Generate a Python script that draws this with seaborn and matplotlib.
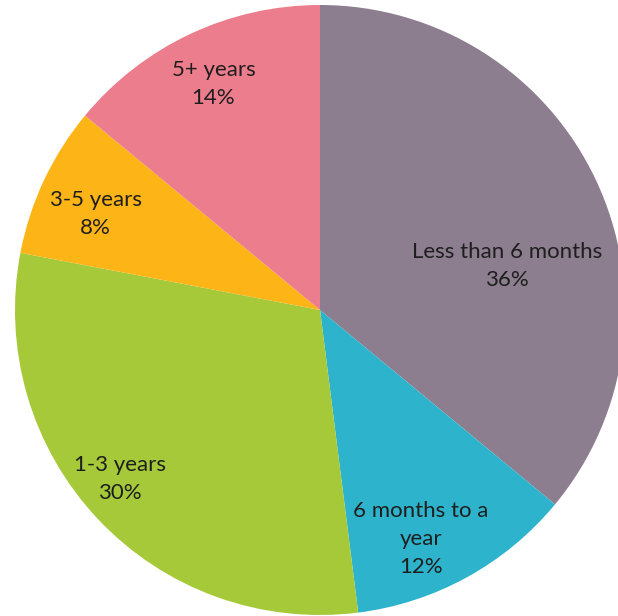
import numpy as np
import matplotlib
matplotlib.use("Agg")
import matplotlib.pyplot as plt
import seaborn as sns

categories = ["Less than 6 months", "6 months to a\nyear", "1-3 years", "3-5 years", "5+ years"]
values = [36, 12, 30, 8, 14]
colors = ["#8c7d8f", "#2db3cc", "#a6c93a", "#fdb416", "#ec7d8c"]
label_dist = [0.63, 0.82, 0.86, 0.80, 0.82]
label_angle_shift = [-12, -5, -3, 2, 0]

sns.set_theme(style="white")
plt.rcParams["font.family"] = ["Lato", "DejaVu Sans"]

fig = plt.figure(figsize=(6.18, 6.16), dpi=100)
ax = fig.add_axes([15 / 618, 1 / 616, 610 / 618, 610 / 616])
pal = sns.color_palette(colors)

wedges, _ = ax.pie(values, colors=pal, startangle=90, counterclock=False,
                   radius=1, wedgeprops=dict(linewidth=0))
total = sum(values)
for w, cat, v, d, sh in zip(wedges, categories, values, label_dist, label_angle_shift):
    ang = np.deg2rad((w.theta1 + w.theta2) / 2 + sh)
    ax.text(d * np.cos(ang), d * np.sin(ang), f"{cat}\n{round(100 * v / total)}%",
            ha="center", va="center", fontsize=16, color="#1e1e1e",
            linespacing=1.5)
ax.set_xlim(-1, 1)
ax.set_ylim(-1, 1)
ax.set_aspect("equal")
ax.axis("off")
fig.savefig("out.png", dpi=100)
